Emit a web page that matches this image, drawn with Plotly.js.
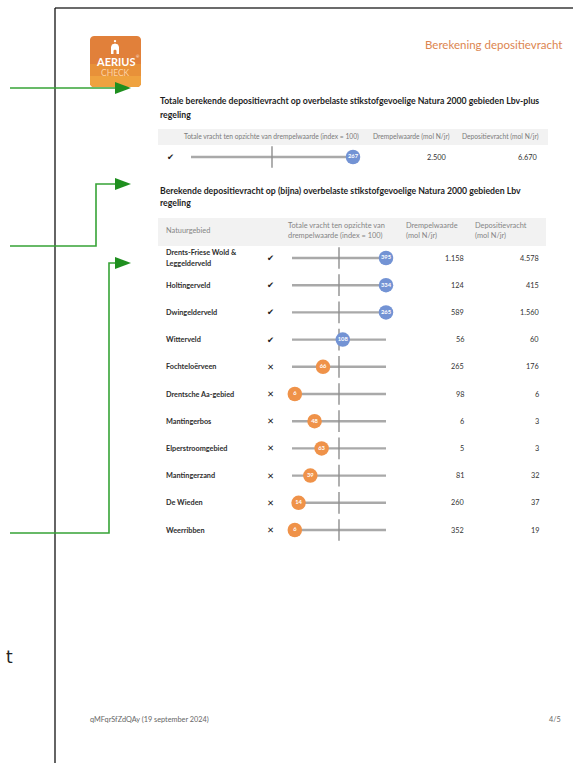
<!DOCTYPE html>
<html>
<head>
<meta charset="utf-8">
<script src="https://cdn.plot.ly/plotly-3.0.1.min.js"></script>
<style>
html,body{margin:0;padding:0;background:#fff;}
#chart{width:573px;height:763px;}
</style>
</head>
<body>
<div id="chart"></div>
<script>
// ---------- DATA ----------
const pageHeader = "Berekening depositievracht";
const title1 = ["Totale berekende depositievracht op overbelaste stikstofgevoelige Natura 2000 gebieden Lbv-plus", "regeling"];
const title2 = ["Berekende depositievracht op (bijna) overbelaste stikstofgevoelige Natura 2000 gebieden Lbv", "regeling"];
const head1 = ["Totale vracht ten opzichte van drempelwaarde (index = 100)", "Drempelwaarde (mol N/jr)", "Depositievracht (mol N/jr)"];
const head2 = ["Natuurgebied", "Totale vracht ten opzichte van<br>drempelwaarde (index = 100)", "Drempelwaarde<br>(mol N/jr)", "Depositievracht<br>(mol N/jr)"];

const totalCategory = ["Lbv-plus"];
const totalIndex = [267];
const totalDrempel = [2500];
const totalVracht = [6670];

const areas = ["Drents-Friese Wold & Leggelderveld", "Holtingerveld", "Dwingelderveld", "Witterveld",
  "Fochteloërveen", "Drentsche Aa-gebied", "Mantingerbos", "Elperstroomgebied", "Mantingerzand",
  "De Wieden", "Weerribben"];
const areaIndex = [395, 334, 265, 108, 66, 6, 48, 63, 39, 14, 6];
const areaDrempel = [1158, 124, 589, 56, 265, 98, 6, 5, 81, 260, 352];
const areaVracht = [4578, 415, 1560, 60, 176, 6, 3, 3, 32, 37, 19];
const areaExceeds = [true, true, true, true, false, false, false, false, false, false, false];
const totalExceeds = [true];

const scaleMax = 200;   // slider scale 0..200, index 100 = threshold
const threshold = 100;
const footerLeft = "qMFqrSfZdQAy (19 september 2024)";
const footerRight = "4/5";

// ---------- HELPERS ----------
const W = 573, H = 763;
const X = px => px / W;
const Y = py => 1 - py / H;
const FONT = "Lato, 'Open Sans', 'Liberation Sans', sans-serif";
const BLUE = "#7393d4", ORANGE = "#ef9249", LINE = "#a9a9a9", TICK = "#8e8e8e";
const fmt = n => String(n).replace(/\B(?=(\d{3})+(?!\d))/g, ".");

function pann(text, x, y, o) {
  o = o || {};
  return {text: text, x: X(x), y: Y(y), xref: 'paper', yref: 'paper', showarrow: false,
    xanchor: o.xa || 'left', yanchor: o.ya || 'middle', align: o.align || 'left',
    font: {family: o.family || FONT, size: o.size || 6, color: o.color || '#333', weight: o.weight || 'normal'}};
}
function rann(text, x, cat, yref, o) {
  o = o || {};
  return {text: text, x: X(x), y: cat, xref: 'paper', yref: yref, showarrow: false,
    xanchor: o.xa || 'left', yanchor: 'middle', align: o.align || 'left', yshift: o.yshift || 0,
    font: {family: o.family || FONT, size: o.size || 6, color: o.color || '#333', weight: o.weight || 'normal'}};
}

// ---------- TRACES ----------
function sliderTraces(cats, idx, exceeds, xa, ya) {
  const lx = [], ly = [];
  cats.forEach(c => { lx.push(0, scaleMax, null); ly.push(c, c, null); });
  return [
    {type: 'scatter', mode: 'lines', x: lx, y: ly, xaxis: xa, yaxis: ya, hoverinfo: 'skip',
     line: {color: LINE, width: 2.4}, cliponaxis: false},
    {type: 'scatter', mode: 'markers', x: cats.map(() => threshold), y: cats, xaxis: xa, yaxis: ya,
     hoverinfo: 'skip', cliponaxis: false,
     marker: {symbol: 'line-ns', size: 15.5, line: {width: 1.4, color: TICK}}},
    {type: 'scatter', mode: 'markers+text', x: idx.map(v => Math.min(v, scaleMax)), y: cats,
     xaxis: xa, yaxis: ya, text: idx.map(String), textposition: 'middle center', cliponaxis: false,
     textfont: {family: FONT, size: 5.8, color: '#ffffff', weight: 'bold'},
     marker: {size: 14.5, color: exceeds.map(e => e ? BLUE : ORANGE), line: {width: 0}}, hoverinfo: 'skip'}
  ];
}
const traces = [].concat(
  sliderTraces(totalCategory, totalIndex, totalExceeds, 'x', 'y'),
  sliderTraces(areas, areaIndex, areaExceeds, 'x2', 'y2')
);

// ---------- SHAPES ----------
const shapes = [];
function pline(x0, y0, x1, y1, color, width) {
  shapes.push({type: 'line', xref: 'paper', yref: 'paper', x0: X(x0), y0: Y(y0), x1: X(x1), y1: Y(y1),
    line: {color: color, width: width}});
}
function ppath(pts, fill, lineColor, lw, closed) {
  const d = pts.map((p, i) => (i ? 'L' : 'M') + X(p[0]) + ',' + Y(p[1])).join(' ') + (closed ? ' Z' : '');
  shapes.push({type: 'path', xref: 'paper', yref: 'paper', path: d,
    fillcolor: fill || 'rgba(0,0,0,0)', line: {color: lineColor || 'rgba(0,0,0,0)', width: lw || 0}});
}
function prect(x0, y0, x1, y1, fill) {
  shapes.push({type: 'rect', xref: 'paper', yref: 'paper', x0: X(x0), y0: Y(y1), x1: X(x1), y1: Y(y0),
    fillcolor: fill, line: {width: 0}, layer: 'below'});
}
// page edges
pline(55, 8, 573, 8, '#3a3a3a', 1.3);
pline(55, 8, 55, 763, '#111', 1.3);
// header bands
prect(158, 129, 548, 145, '#f2f2f2');
prect(158, 218, 546, 246, '#f2f2f2');
// logo
function roundRect(x0, y0, x1, y1, r, rt, rb) {
  const pts = [];
  const rtop = rt ? r : 0, rbot = rb ? r : 0;
  const arc = (cx, cy, rr, a0, a1) => { for (let k = 0; k <= 6; k++) { const a = a0 + (a1 - a0) * k / 6; pts.push([cx + rr * Math.cos(a), cy + rr * Math.sin(a)]); } };
  if (rtop) arc(x0 + rtop, y0 + rtop, rtop, Math.PI, 1.5 * Math.PI); else pts.push([x0, y0]);
  if (rtop) arc(x1 - rtop, y0 + rtop, rtop, 1.5 * Math.PI, 2 * Math.PI); else pts.push([x1, y0]);
  if (rbot) arc(x1 - rbot, y1 - rbot, rbot, 0, 0.5 * Math.PI); else pts.push([x1, y1]);
  if (rbot) arc(x0 + rbot, y1 - rbot, rbot, 0.5 * Math.PI, Math.PI); else pts.push([x0, y1]);
  return pts;
}
ppath(roundRect(90, 36, 141, 87, 4, true, true), '#e1803a', null, 0, true);
ppath(roundRect(90, 64, 141, 87, 4, false, true), '#e89139', null, 0, true);
ppath(roundRect(90, 76, 141, 87, 4, false, true), '#efa23f', null, 0, true);
// logo icon
ppath([[111, 54], [111, 47], [112, 44.5], [115, 43.5], [118, 44.5], [119, 47], [119, 54], [116.5, 54], [116.5, 50.5], [115, 49.5], [113.5, 50.5], [113.5, 54]], '#ffffff', null, 0, true);
shapes.push({type: 'circle', xref: 'paper', yref: 'paper', x0: X(113.8), x1: X(116.2), y0: Y(42.3), y1: Y(39.9), fillcolor: '#fff', line: {width: 0}});
// green arrows
const G = '#36a336', GH = '#1f8f1f';
ppath([[10, 88], [116, 88]], null, G, 1.6, false);
ppath([[10, 246], [96, 246], [96, 184], [116, 184]], null, G, 1.6, false);
ppath([[10, 533], [109, 533], [109, 263], [116, 263]], null, G, 1.6, false);
[[88, 115], [184, 115], [263, 115]].forEach(a => {
  ppath([[a[1], a[0] - 6], [a[1] + 16, a[0]], [a[1], a[0] + 6]], GH, null, 0, true);
});

// ---------- ANNOTATIONS ----------
const anns = [];
const SANS = "'DejaVu Sans', sans-serif";
anns.push(pann(pageHeader, 565, 45, {xa: 'right', size: 11.5, color: '#dc8550'}));
anns.push(pann('AERIUS', 115.5, 61.5, {xa: 'center', size: 11, color: '#ffffff', weight: 'bold'}));
anns.push(pann('®', 138, 56, {xa: 'center', size: 4, color: '#ffffff'}));
anns.push(pann('CHECK', 115.5, 73.5, {xa: 'center', size: 8.5, color: '#fcd3a4'}));
anns.push(pann('t', 9, 657, {xa: 'center', size: 17, color: '#222', family: SANS}));

anns.push(pann(title1[0], 158, 101, {size: 8.7, color: '#1e1e1e', weight: 'bold'}));
anns.push(pann(title1[1], 158, 114, {size: 8.7, color: '#1e1e1e', weight: 'bold'}));
anns.push(pann(head1[0], 271, 137, {xa: 'center', size: 6.7, color: '#7a7a7a'}));
anns.push(pann(head1[1], 411, 137, {xa: 'center', size: 6.7, color: '#7a7a7a'}));
anns.push(pann(head1[2], 500, 137, {xa: 'center', size: 6.7, color: '#7a7a7a'}));

totalCategory.forEach((c, i) => {
  anns.push(rann(totalExceeds[i] ? '✔' : '✕', 170, c, 'y', {xa: 'center', size: 8.5, color: '#222', family: SANS}));
  anns.push(rann(fmt(totalDrempel[i]), 449, c, 'y', {xa: 'right', size: 7.4, color: '#333'}));
  anns.push(rann(fmt(totalVracht[i]), 540, c, 'y', {xa: 'right', size: 7.4, color: '#333'}));
});

anns.push(pann(title2[0], 158, 190, {size: 8.7, color: '#1e1e1e', weight: 'bold'}));
anns.push(pann(title2[1], 158, 203, {size: 8.7, color: '#1e1e1e', weight: 'bold'}));
anns.push(pann(head2[0], 164, 231, {size: 7.4, color: '#858585'}));
anns.push(pann(head2[1], 286, 231, {size: 7.4, color: '#858585'}));
anns.push(pann(head2[2], 404, 231, {size: 7.4, color: '#858585'}));
anns.push(pann(head2[3], 473, 231, {size: 7.4, color: '#858585'}));

areas.forEach((c, i) => {
  const parts = c.split('& ');
  const nameOpt = {size: 7.3, color: '#2e2e2e', weight: 'bold'};
  if (parts.length > 1) {
    anns.push(rann(parts[0] + '&', 164, c, 'y2', Object.assign({yshift: 5.5}, nameOpt)));
    anns.push(rann(parts[1], 164, c, 'y2', Object.assign({yshift: -5.5}, nameOpt)));
  } else {
    anns.push(rann(c, 164, c, 'y2', nameOpt));
  }
  anns.push(rann(areaExceeds[i] ? '✔' : '✕', 270, c, 'y2', {xa: 'center', size: 8.5, color: '#222', family: SANS}));
  anns.push(rann(fmt(areaDrempel[i]), 466, c, 'y2', {xa: 'right', size: 7.3, color: '#333'}));
  anns.push(rann(fmt(areaVracht[i]), 541, c, 'y2', {xa: 'right', size: 7.3, color: '#333'}));
});

anns.push(pann(footerLeft, 88, 719, {size: 7.3, color: '#666'}));
anns.push(pann(footerRight, 563, 719, {xa: 'right', size: 7.3, color: '#666'}));

// ---------- LAYOUT ----------
const axOff = {visible: false, showgrid: false, zeroline: false, fixedrange: true};
const layout = {
  width: W, height: H, margin: {l: 0, r: 0, t: 0, b: 0, pad: 0},
  paper_bgcolor: '#ffffff', plot_bgcolor: 'rgba(0,0,0,0)', showlegend: false,
  xaxis: Object.assign({}, axOff, {domain: [X(191), X(353)], range: [0, scaleMax], anchor: 'y'}),
  yaxis: Object.assign({}, axOff, {domain: [Y(170.6), Y(143.4)], type: 'category', range: [-0.5, 0.5], anchor: 'x'}),
  xaxis2: Object.assign({}, axOff, {domain: [X(292), X(386)], range: [0, scaleMax], anchor: 'y2'}),
  yaxis2: Object.assign({}, axOff, {domain: [Y(543.6), Y(244.4)], type: 'category',
    categoryorder: 'array', categoryarray: areas, range: [areas.length - 0.5, -0.5], anchor: 'x2'}),
  shapes: shapes, annotations: anns
};
Plotly.newPlot('chart', traces, layout, {displayModeBar: false, staticPlot: true});
</script>
</body>
</html>
